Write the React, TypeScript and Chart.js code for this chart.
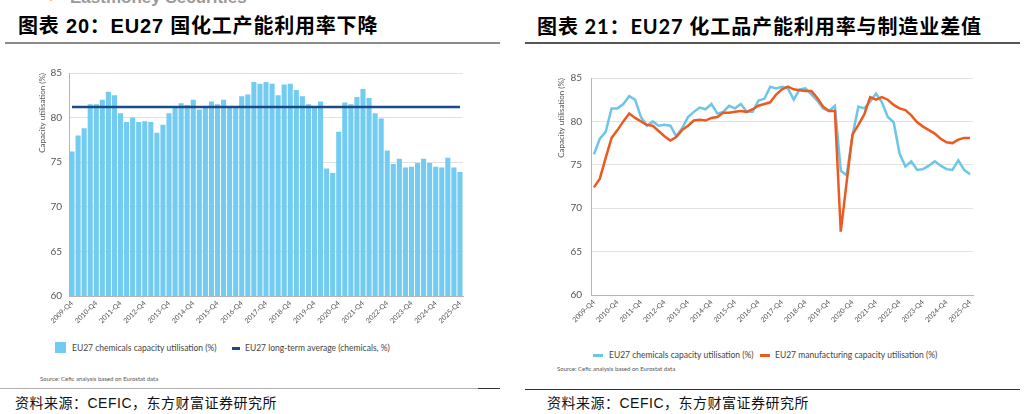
import React, { useEffect, useRef } from "react";
import { Chart, registerables } from "chart.js";

Chart.register(...registerables);

// Quarterly categories, 2009-Q4 through 2025-Q4
const FIRST_YEAR = 2009;
const QUARTER_COUNT = 65;
const QUARTERS: string[] = [];
for (let i = 0; i < QUARTER_COUNT; i++) {
  const m = 3 + i;
  QUARTERS.push(`${FIRST_YEAR + Math.floor(m / 4)}-Q${(m % 4) + 1}`);
}

// Labelled ticks on the time axis (every fourth quarter)
const TICK_LABELS = [
  "2009-Q4", "2010-Q4", "2011-Q4", "2012-Q4", "2013-Q4", "2014-Q4",
  "2015-Q4", "2016-Q4", "2017-Q4", "2018-Q4", "2019-Q4", "2020-Q4",
  "2021-Q4", "2022-Q4", "2023-Q4", "2024-Q4", "2025-Q4",
];

// EU27 chemicals capacity utilisation (%)
const CHEMICALS = [
  76.2, 78.0, 78.8, 81.5, 81.5, 82.0, 82.9, 82.5, 80.5, 79.5,
  80.0, 79.5, 79.6, 79.5, 78.3, 79.2, 80.5, 81.1, 81.6, 81.4,
  82.0, 80.9, 81.1, 81.8, 81.5, 82.0, 81.1, 81.1, 82.4, 82.6,
  84.0, 83.8, 84.0, 83.8, 82.5, 83.7, 83.8, 83.1, 82.4, 81.5,
  81.2, 81.8, 74.3, 73.8, 78.4, 81.7, 81.5, 82.3, 83.2, 82.2,
  80.5, 79.9, 76.3, 74.8, 75.4, 74.4, 74.5, 74.9, 75.4, 74.9,
  74.5, 74.4, 75.5, 74.4, 73.9,
];

// EU27 manufacturing capacity utilisation (%)
const MANUFACTURING = [
  72.4, 73.4, 75.8, 78.1, 79.0, 80.0, 80.9, 80.4, 80.0, 79.6,
  79.5, 78.9, 78.3, 77.8, 78.2, 79.0, 79.5, 80.1, 80.2, 80.1,
  80.4, 80.5, 81.0, 81.0, 81.1, 81.2, 81.1, 81.4, 81.8, 82.0,
  82.2, 83.1, 83.7, 84.0, 83.7, 83.6, 83.5, 83.5, 82.7, 81.7,
  81.2, 81.2, 67.3, 73.0, 78.5, 79.6, 80.8, 82.8, 82.5, 82.8,
  82.5, 81.9, 81.5, 81.3, 80.7, 79.9, 79.4, 79.0, 78.6, 78.0,
  77.6, 77.5, 77.9, 78.1, 78.1,
];

// EU27 long-term average for chemicals (%)
const LONG_TERM_AVG = 81.2;

// Value axis
const Y_MIN = 60;
const Y_MAX = 85;
const Y_STEP = 5;

const BAR_BLUE = "#72CBF0";
const LINE_BLUE = "#6CC6EA";
const NAVY = "#1B4B86";
const ORANGE = "#EC5A20";
const GRID = "#E2E2E2";
const AXIS = "#B5B5B5";
const TICK_TEXT = "#555";

const CHART_FONT = "Lato, 'Noto Sans', sans-serif";

function baseScales(opts: {
  yWidth: number;
  xHeight: number;
  titlePad: number;
  tickPad: number;
  offset: boolean;
}) {
  return {
    x: {
      offset: opts.offset,
      grid: { display: false, drawTicks: false },
      border: { display: true, color: AXIS, width: 1 },
      ticks: {
        autoSkip: false,
        maxRotation: 45,
        minRotation: 45,
        padding: 3,
        color: TICK_TEXT,
        font: { family: CHART_FONT, size: 7 },
        callback: (_v: unknown, i: number) =>
          TICK_LABELS.includes(QUARTERS[i]) ? QUARTERS[i] : "",
      },
      afterFit: (s: any) => {
        s.height = opts.xHeight;
      },
    },
    y: {
      min: Y_MIN,
      max: Y_MAX,
      grid: { color: GRID, lineWidth: 1, drawTicks: false },
      border: { display: true, color: AXIS, width: 1 },
      ticks: {
        stepSize: Y_STEP,
        padding: opts.tickPad,
        color: TICK_TEXT,
        font: { family: CHART_FONT, size: 10 },
      },
      title: {
        display: true,
        text: "Capacity utilisation (%)",
        align: "end",
        color: TICK_TEXT,
        font: { family: CHART_FONT, size: 8 },
        padding: { top: opts.titlePad, bottom: 0 },
      },
      afterFit: (s: any) => {
        s.width = opts.yWidth;
      },
    },
  };
}

function UtilisationBars() {
  const ref = useRef<HTMLCanvasElement>(null);
  useEffect(() => {
    if (!ref.current) return;
    const chart = new Chart(ref.current, {
      type: "bar",
      data: {
        labels: QUARTERS,
        datasets: [
          {
            type: "line",
            label: "EU27 long-term average (chemicals, %)",
            data: QUARTERS.map(() => LONG_TERM_AVG),
            borderColor: NAVY,
            borderWidth: 2.5,
            pointRadius: 0,
            order: 0,
          },
          {
            type: "bar",
            label: "EU27 chemicals capacity utilisation (%)",
            data: CHEMICALS,
            backgroundColor: BAR_BLUE,
            borderWidth: 0,
            barPercentage: 0.84,
            categoryPercentage: 1,
            order: 1,
          },
        ],
      } as any,
      options: {
        animation: false,
        responsive: false,
        maintainAspectRatio: false,
        layout: { padding: { top: 18, right: 17, left: 0, bottom: 0 } },
        plugins: { legend: { display: false }, tooltip: { enabled: false } },
        scales: baseScales({ yWidth: 49, xHeight: 29, titlePad: 18, tickPad: 7, offset: true }) as any,
      },
    });
    return () => chart.destroy();
  }, []);
  return (
    <canvas
      ref={ref}
      width={460}
      height={270}
      style={{ position: "absolute", left: 20, top: 55, width: 460, height: 270 }}
    />
  );
}

function UtilisationLines() {
  const ref = useRef<HTMLCanvasElement>(null);
  useEffect(() => {
    if (!ref.current) return;
    const chart = new Chart(ref.current, {
      type: "line",
      data: {
        labels: QUARTERS,
        datasets: [
          {
            label: "EU27 chemicals capacity utilisation (%)",
            data: CHEMICALS,
            borderColor: LINE_BLUE,
            borderWidth: 2.5,
            pointRadius: 0,
            tension: 0,
            order: 1,
          },
          {
            label: "EU27 manufacturing capacity utilisation (%)",
            data: MANUFACTURING,
            borderColor: ORANGE,
            borderWidth: 2.5,
            pointRadius: 0,
            tension: 0,
            order: 0,
          },
        ],
      },
      options: {
        animation: false,
        responsive: false,
        maintainAspectRatio: false,
        layout: { padding: { top: 23, right: 17, left: 0, bottom: 0 } },
        plugins: { legend: { display: false }, tooltip: { enabled: false } },
        scales: baseScales({ yWidth: 41, xHeight: 35, titlePad: 7, tickPad: 9, offset: true }) as any,
      },
    });
    return () => chart.destroy();
  }, []);
  return (
    <canvas
      ref={ref}
      width={440}
      height={275}
      style={{ position: "absolute", left: 550, top: 55, width: 440, height: 275 }}
    />
  );
}

const abs = (s: React.CSSProperties): React.CSSProperties => ({ position: "absolute", ...s });

function LegendText({ x, y, text }: { x: number; y: number; text: string }) {
  return (
    <div
      style={abs({
        left: x,
        top: y - 6,
        height: 12,
        lineHeight: "12px",
        fontFamily: CHART_FONT,
        fontSize: 8.5,
        color: "#444",
        whiteSpace: "nowrap",
      })}
    >
      {text}
    </div>
  );
}

function SourceNote({ x, y }: { x: number; y: number }) {
  return (
    <div
      style={abs({
        left: x,
        top: y - 4,
        lineHeight: "8px",
        fontFamily: CHART_FONT,
        fontSize: 6,
        color: "#555",
        whiteSpace: "nowrap",
      })}
    >
      Source: Cefic analysis based on Eurostat data
    </div>
  );
}

function Footer({ x }: { x: number }) {
  return (
    <div
      style={abs({
        left: x,
        top: 395,
        lineHeight: "16px",
        fontFamily: "'Liberation Sans', 'Noto Sans CJK SC', sans-serif",
        fontSize: 14,
        letterSpacing: 0.5,
        color: "#111",
        whiteSpace: "nowrap",
      })}
    >
      资料来源：CEFIC，东方财富证券研究所
    </div>
  );
}

export default function App() {
  return (
    <div
      style={{
        position: "fixed",
        left: 0,
        top: 0,
        width: 1025,
        height: 414,
        overflow: "hidden",
        background: "#fff",
      }}
    >
      {/* header strip */}
      <div style={abs({ left: 46, top: -9, fontSize: 10, color: "#E8502A", lineHeight: "14px" })}>▼</div>
      <div
        style={abs({
          left: 70,
          top: -11,
          fontFamily: "'Liberation Sans', sans-serif",
          fontWeight: 700,
          fontSize: 17,
          lineHeight: "18px",
          color: "#9a9a9a",
          whiteSpace: "nowrap",
        })}
      >
        Eastmoney Securities
      </div>

      {/* titles */}
      <div
        style={abs({
          left: 18,
          top: 14,
          lineHeight: "24px",
          fontFamily: "'Liberation Sans', 'Noto Sans CJK SC', sans-serif",
          fontWeight: 700,
          fontSize: 20,
          letterSpacing: 0.8,
          color: "#000",
          whiteSpace: "nowrap",
        })}
      >
        图表 20：EU27 国化工产能利用率下降
      </div>
      <div
        style={abs({
          left: 537,
          top: 14,
          lineHeight: "24px",
          fontFamily: "Lato, 'Noto Sans CJK SC', sans-serif",
          fontWeight: 700,
          fontSize: 20,
          letterSpacing: 0.9,
          color: "#000",
          whiteSpace: "nowrap",
        })}
      >
        图表 21：EU27 化工品产能利用率与制造业差值
      </div>

      {/* rules */}
      <div style={abs({ left: 5, top: 42, width: 495, height: 1.5, background: "#8a8a8a" })} />
      <div style={abs({ left: 525, top: 42, width: 495, height: 2, background: "#555" })} />
      <div style={abs({ left: 0, top: 388, width: 478, height: 1, background: "#b0b0b0" })} />
      <div style={abs({ left: 478, top: 387.5, width: 22, height: 1.5, background: "#333" })} />
      <div style={abs({ left: 525, top: 388.5, width: 495, height: 1.5, background: "#333" })} />

      <UtilisationBars />
      <UtilisationLines />

      {/* legend: bar chart */}
      <div style={abs({ left: 55, top: 342, width: 11, height: 11, background: BAR_BLUE })} />
      <LegendText x={72} y={348} text="EU27 chemicals capacity utilisation (%)" />
      <div style={abs({ left: 232, top: 347, width: 8, height: 2.5, background: NAVY })} />
      <LegendText x={245} y={348} text="EU27 long-term average (chemicals, %)" />
      <SourceNote x={40} y={379} />

      {/* legend: line chart */}
      <div style={abs({ left: 593, top: 354, width: 10, height: 2.5, background: LINE_BLUE })} />
      <LegendText x={609} y={355} text="EU27 chemicals capacity utilisation (%)" />
      <div style={abs({ left: 760, top: 354, width: 10, height: 2.5, background: ORANGE })} />
      <LegendText x={775} y={355} text="EU27 manufacturing capacity utilisation (%)" />
      <SourceNote x={557} y={369} />

      <Footer x={15} />
      <Footer x={547} />
    </div>
  );
}
